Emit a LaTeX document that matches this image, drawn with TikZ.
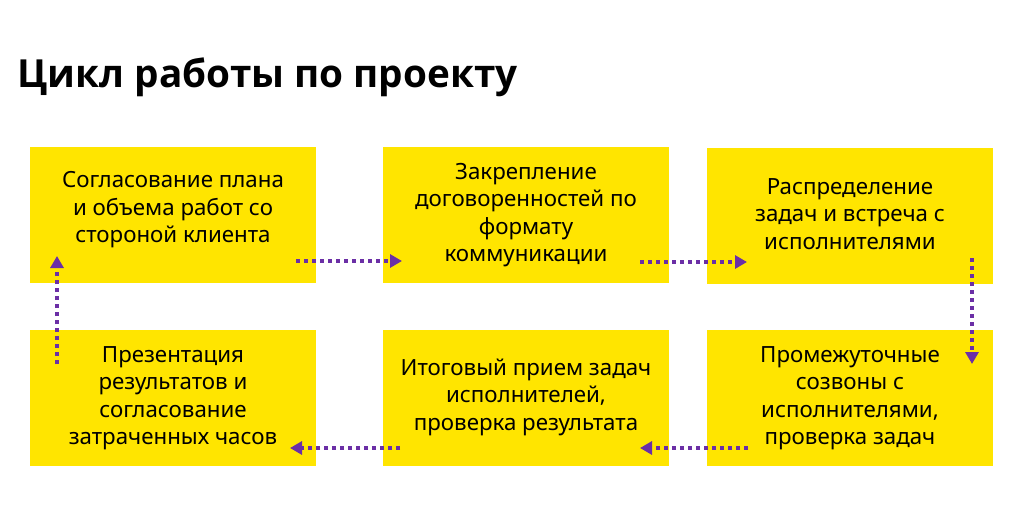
\documentclass[tikz,border=0pt]{standalone}
\usepackage{fontspec}
\setmainfont{Noto Sans}
\newfontfamily\titlefont{Open Sans}
\usetikzlibrary{arrows.meta}
\definecolor{boxyellow}{HTML}{FFE500}
\definecolor{arrowpurple}{HTML}{6B2FA6}
\begin{document}
\begin{tikzpicture}[x=1pt,y=-1pt,
  card/.style={fill=boxyellow, draw=none, anchor=north west, inner sep=0pt,
    minimum width=286pt, minimum height=136pt},
  label/.style={align=center, font=\fontsize{22.3}{27.5}\selectfont, text=black},
  flow/.style={draw=arrowpurple, line width=4pt, dash pattern=on 4pt off 4pt,
    -{Triangle[length=12pt,width=13pt,fill=arrowpurple]}}
]
\useasboundingbox[fill=white] (0,0) rectangle (1024,522);
\node[anchor=west, font=\titlefont\fontsize{38.7}{40}\bfseries\selectfont] (title) at (14,77) {Цикл работы по проекту};

\node[card] (b1) at (30,147) {};
\node[card] (b2) at (383,147) {};
\node[card] (b3) at (707,148) {};
\node[card] (b4) at (30,330) {};
\node[card] (b5) at (383,330) {};
\node[card] (b6) at (707,330) {};

\node[label] (t1) at (173,210) {Согласование плана\\и объема работ со\\стороной клиента};
\node[label] (t2) at (526,215) {Закрепление\\договоренностей по\\формату\\коммуникации};
\node[label] (t3) at (850,214) {Распределение\\задач и встреча с\\исполнителями};
\node[label] (t4) at (173,398) {Презентация\\результатов и\\согласование\\затраченных часов};
\node[label] (t5) at (526,397) {Итоговый прием задач\\исполнителей,\\проверка результата};
\node[label] (t6) at (850,398) {Промежуточные\\созвоны с\\исполнителями,\\проверка задач};

\coordinate (a1s) at (296,261); \coordinate (a1e) at (402,261);
\coordinate (a2s) at (640,262); \coordinate (a2e) at (747,262);
\coordinate (a3s) at (972,258); \coordinate (a3e) at (972,364);
\coordinate (a4s) at (748,448); \coordinate (a4e) at (640,448);
\coordinate (a5s) at (400,448); \coordinate (a5e) at (290,448);
\coordinate (a6s) at (57,364);  \coordinate (a6e) at (57,256);

\draw[flow] (a1s) -- (a1e);
\draw[flow] (a2s) -- (a2e);
\draw[flow] (a3s) -- (a3e);
\draw[flow] (a4s) -- (a4e);
\draw[flow] (a5s) -- (a5e);
\draw[flow] (a6s) -- (a6e);
\end{tikzpicture}
\end{document}
